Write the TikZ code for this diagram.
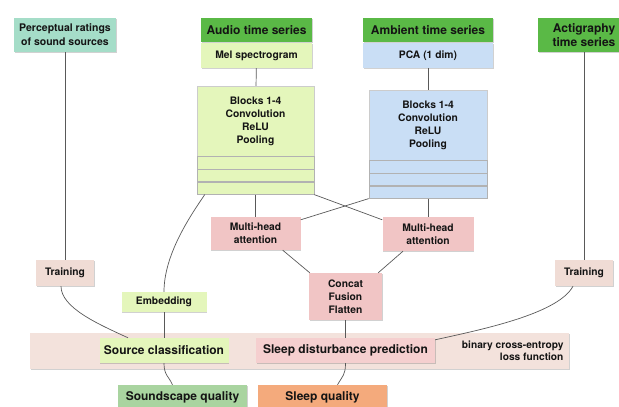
\documentclass[tikz,border=0pt]{standalone}
\usepackage{fontspec}
\setmainfont{TeX Gyre Heros}
\usepackage{tikz}
\usetikzlibrary{shadows}
\definecolor{hdrgreen}{HTML}{5AB946}
\definecolor{percteal}{HTML}{A5DDC8}
\definecolor{lgreen}{HTML}{E4F6BB}
\definecolor{lblue}{HTML}{C9DEF5}
\definecolor{attnpink}{HTML}{F1C5C5}
\definecolor{predpink}{HTML}{F5CFCF}
\definecolor{trainbeige}{HTML}{F0DCD5}
\definecolor{bandbeige}{HTML}{F3E2DC}
\definecolor{sagegreen}{HTML}{A9D4A0}
\definecolor{sleeporange}{HTML}{F4AA7C}

\begin{document}
\begin{tikzpicture}[x=1pt,y=-1pt,
    box/.style={rectangle,inner sep=1pt,align=center,text=black!92,
      font=\bfseries\fontsize{10.3}{13}\selectfont,
      drop shadow={shadow xshift=0.7pt,shadow yshift=-0.9pt,opacity=0.3,fill=black!60}},
    bigbox/.style={box,font=\bfseries\fontsize{12}{14.5}\selectfont},
    header/.style={bigbox,fill=hdrgreen},
    layer/.style={box,draw=black!30,line width=0.5pt,minimum height=12.3},
    link/.style={draw=black!65,line width=0.7pt}]
    \useasboundingbox (0,0) rectangle (619,407);
    \clip (0,0) rectangle (619,407);

    % inputs
    \node[box,fill=percteal,font=\bfseries\fontsize{10.5}{14}\selectfont,minimum width=102,minimum height=34] (percep) at (65,35) {Perceptual ratings\\of sound sources};
    \node[header,minimum width=111,minimum height=24] (audio) at (256.5,30) {Audio time series};
    \node[header,minimum width=130,minimum height=24] (ambient) at (428,30) {Ambient time series};
    \node[header,minimum width=92,minimum height=34] (acti) at (584,35) {Actigraphy\\time series};
    \node[box,fill=lgreen,minimum width=111,minimum height=25] (mel) at (256.5,55.5) {Mel spectrogram};
    \node[box,fill=lblue,minimum width=130,minimum height=25] (pca) at (428,55.5) {PCA (1 dim)};

    % conv blocks
    \node[box,fill=lgreen,draw=black!20,line width=0.4pt,minimum width=117,minimum height=70] (gblk) at (255.5,121) {Blocks 1-4\\Convolution\\ReLU\\Pooling};
    \node[layer,fill=lgreen,minimum width=117,anchor=north] (gblkA) at (gblk.south) {};
    \node[layer,fill=lgreen,minimum width=117,anchor=north] (gblkB) at (gblkA.south) {};
    \node[layer,fill=lgreen,minimum width=117,anchor=north] (gblkC) at (gblkB.south) {};
    \node[box,fill=lblue,draw=black!20,line width=0.4pt,minimum width=118,minimum height=70] (bblk) at (428,125) {Blocks 1-4\\Convolution\\ReLU\\Pooling};
    \node[layer,fill=lblue,minimum width=118,anchor=north] (bblkA) at (bblk.south) {};
    \node[layer,fill=lblue,minimum width=118,anchor=north] (bblkB) at (bblkA.south) {};
    \node[layer,fill=lblue,minimum width=118,anchor=north] (bblkC) at (bblkB.south) {};

    % attention and fusion
    \node[box,fill=attnpink,minimum width=90,minimum height=33] (mhaL) at (255.5,233.5) {Multi-head\\attention};
    \node[box,fill=attnpink,minimum width=91,minimum height=34] (mhaR) at (428,234) {Multi-head\\attention};
    \node[box,fill=attnpink,minimum width=73,minimum height=47] (concat) at (345.5,296.5) {Concat\\Fusion\\Flatten};
    \node[box,fill=trainbeige,minimum width=58,minimum height=26] (trainL) at (65,273) {Training};
    \node[box,fill=trainbeige,minimum width=58,minimum height=26] (trainR) at (584,273) {Training};
    \node[box,fill=lgreen,minimum width=85,minimum height=20] (embed) at (164,302) {Embedding};

    % outputs
    \node[box,fill=bandbeige,minimum width=539,minimum height=36] (band) at (299.5,351) {};
    \node[bigbox,fill=lgreen,minimum width=129,minimum height=25] (srccls) at (164,350.5) {Source classification};
    \node[bigbox,fill=predpink,minimum width=179,minimum height=25] (sleepdis) at (345.5,350.5) {Sleep disturbance prediction};
    \node[align=right,anchor=east,text=black!92,font=\bfseries\fontsize{10.2}{12.5}\selectfont] (loss) at (567,350.5) {binary cross-entropy\\loss function};
    \node[bigbox,fill=sagegreen,minimum width=129,minimum height=24] (sndq) at (182.5,397) {Soundscape quality};
    \node[bigbox,fill=sleeporange,minimum width=129,minimum height=24] (slpq) at (322.5,397) {Sleep quality};

    \draw[link] (percep) -- (trainL);
    \draw[link] (acti) -- (trainR);
    \draw[link] (mel) -- (gblk);
    \draw[link] (pca) -- (bblk);
    \draw[link] (gblkC) -- (mhaL);
    \draw[link] (bblkC) -- (mhaR);
    \draw[link] (gblkC.south east) -- ([yshift=-3pt]mhaR.north west);
    \draw[link] (bblkC.south west) -- ([yshift=-3pt]mhaL.north east);
    \draw[link] ([xshift=-18pt]mhaL.south east) -- ([xshift=1pt]concat.north west);
    \draw[link] ([xshift=-25pt]mhaR.south) -- ([xshift=-4pt]concat.north east);
    \draw[link] (concat) -- (sleepdis);
    \draw[link] (embed) -- (srccls);
    \draw[link] ([xshift=8pt]gblkC.south west) .. controls +(-15,22) and +(0,-37) .. (embed.north);
    \draw[link] ([xshift=-4pt]trainL.south) .. controls +(0,22) and +(-28,-13) .. ([xshift=-36pt]srccls.north);
    \draw[link] ([xshift=-11pt]trainR.south) .. controls +(-15,28) and +(45,-10) .. ([yshift=-2pt]sleepdis.north east);
    \draw[link] (srccls.south) .. controls +(0,12) and +(-4,-9) .. ([xshift=-10pt]sndq.north);
    \draw[link] (sleepdis.south) .. controls +(0,12) and +(5,-9) .. ([xshift=15pt]slpq.north);
\end{tikzpicture}
\end{document}
